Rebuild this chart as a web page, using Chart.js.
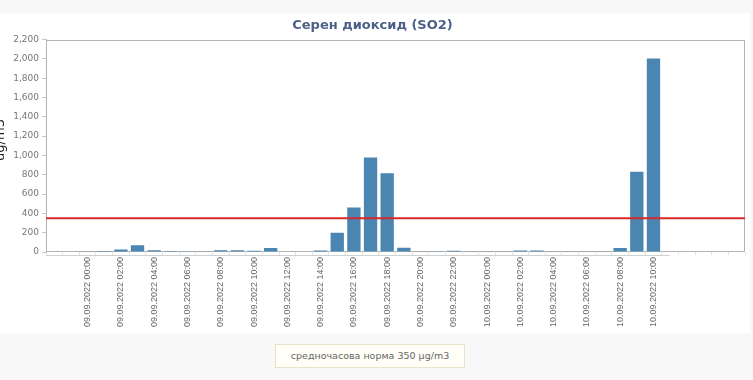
<!DOCTYPE html>
<html>
<head>
<meta charset="utf-8">
<script src="https://cdn.jsdelivr.net/npm/chart.js@4/dist/chart.umd.min.js"></script>
<style>
  html,body{margin:0;padding:0;background:#f8f8f8;}
  #wrap{position:relative;width:753px;height:380px;overflow:hidden;}
  #so2Chart{position:absolute;left:0;top:0;}
  #limitBox{position:absolute;left:275px;top:344px;width:188px;height:22px;border:1px solid #e8e3cc;background:#fffef7;
    font:9.5px "DejaVu Sans",sans-serif;color:#666;text-align:center;line-height:22px;box-sizing:content-box;}
</style>
</head>
<body>
<div id="wrap">
  <canvas id="so2Chart" width="753" height="380"></canvas>
  <div id="limitBox">средночасова норма 350 µg/m3</div>
</div>
<script>
// hourly SO2, 09.09.2022 00:00 .. 10.09.2022 10:00
const hours=['09.09.2022 00:00','09.09.2022 01:00','09.09.2022 02:00','09.09.2022 03:00','09.09.2022 04:00','09.09.2022 05:00',
  '09.09.2022 06:00','09.09.2022 07:00','09.09.2022 08:00','09.09.2022 09:00','09.09.2022 10:00','09.09.2022 11:00',
  '09.09.2022 12:00','09.09.2022 13:00','09.09.2022 14:00','09.09.2022 15:00','09.09.2022 16:00','09.09.2022 17:00',
  '09.09.2022 18:00','09.09.2022 19:00','09.09.2022 20:00','09.09.2022 21:00','09.09.2022 22:00','09.09.2022 23:00',
  '10.09.2022 00:00','10.09.2022 01:00','10.09.2022 02:00','10.09.2022 03:00','10.09.2022 04:00','10.09.2022 05:00',
  '10.09.2022 06:00','10.09.2022 07:00','10.09.2022 08:00','10.09.2022 09:00','10.09.2022 10:00'];
const so2=[7,11,25,70,17,10,8,8,17,17,12,42,
  0,6,15,200,460,980,815,45,8,8,13,8,
  8,8,15,15,7,7,7,7,42,830,2005];
const yTicks=[0,200,400,600,800,1000,1200,1400,1600,1800,2000,2200];
const limitValue=350;
const emptyBefore=['',''];
const emptyAfter=['','','','',''];

(function(){
  const labels=[...emptyBefore,...hours,...emptyAfter];
  const values=[...emptyBefore.map(()=>null),...so2,...emptyAfter.map(()=>null)];

  const framePlugin={
    id:'frame',
    beforeDraw(chart){
      const c=chart.ctx;
      c.save();
      c.fillStyle='#f8f8f8';c.fillRect(0,0,chart.width,chart.height);
      c.fillStyle='#ffffff';c.fillRect(0,13,750,320);
      c.restore();
    },
    beforeDatasetsDraw(chart){
      const c=chart.ctx,a=chart.chartArea,x=chart.scales.x;
      c.save();
      c.strokeStyle='#b4b4b4';c.lineWidth=1;
      c.strokeRect(Math.round(a.left)+0.5,Math.round(a.top)+0.5,Math.round(a.right-a.left)-1,Math.round(a.bottom-a.top)-1);
      // category axis line under the data range
      const lastIdx=emptyBefore.length+so2.length-1;
      const endX=x.getPixelForValue(lastIdx)+(x.getPixelForValue(1)-x.getPixelForValue(0));
      c.strokeStyle='#d0d0d0';
      c.beginPath();c.moveTo(a.left,Math.round(a.bottom)+3.5);c.lineTo(endX,Math.round(a.bottom)+3.5);c.stroke();
      c.restore();
    },
    afterDraw(chart){
      const c=chart.ctx,a=chart.chartArea,y=chart.scales.y;
      c.save();
      // hourly norm
      const py=y.getPixelForValue(limitValue);
      c.strokeStyle='#d42a2a';c.lineWidth=2;
      c.beginPath();c.moveTo(a.left,py);c.lineTo(a.right,py);c.stroke();
      // axis title
      c.translate(4,140);c.rotate(-Math.PI/2);
      c.fillStyle='#222';c.font='13px "DejaVu Sans"';c.textAlign='center';c.textBaseline='alphabetic';
      c.fillText('ug/m3',0,0);
      c.restore();
    }
  };

  new Chart(document.getElementById('so2Chart'),{
    type:'bar',
    data:{labels,datasets:[{label:'SO2',data:values,backgroundColor:'#4b85b1',barPercentage:0.8,categoryPercentage:1}]},
    options:{
      responsive:false,animation:false,
      layout:{padding:{left:0,right:8,bottom:47,top:0}},
      plugins:{
        legend:{display:false},tooltip:{enabled:false},
        title:{display:true,text:'Серен диоксид (SO2)',color:'#4c5f87',font:{family:'DejaVu Sans',size:13,weight:'bold'},padding:{top:18,bottom:6}}
      },
      scales:{
        x:{
          grid:{display:true,drawOnChartArea:false,tickLength:3,color:'#e4e4e4'},
          border:{display:false},
          ticks:{autoSkip:false,minRotation:90,maxRotation:90,padding:2,color:'#666',font:{family:'Liberation Sans',size:9},
            callback(v,i){const l=labels[i];return l&&parseInt(l.slice(11,13),10)%2===0?l:'';}},
          afterFit(s){s.height=81;}
        },
        y:{
          min:0,max:2200,
          afterBuildTicks(s){s.ticks=yTicks.map(v=>({value:v}));},
          grid:{display:true,drawOnChartArea:false,tickLength:4,color:'#c8c8c8'},
          border:{display:true,color:'#b4b4b4'},
          ticks:{padding:3,color:'#777',font:{family:'DejaVu Sans',size:9},callback:v=>v.toLocaleString('en-US')},
          afterFit(s){s.width=46;}
        }
      }
    },
    plugins:[framePlugin]
  });
})();
</script>
</body>
</html>
